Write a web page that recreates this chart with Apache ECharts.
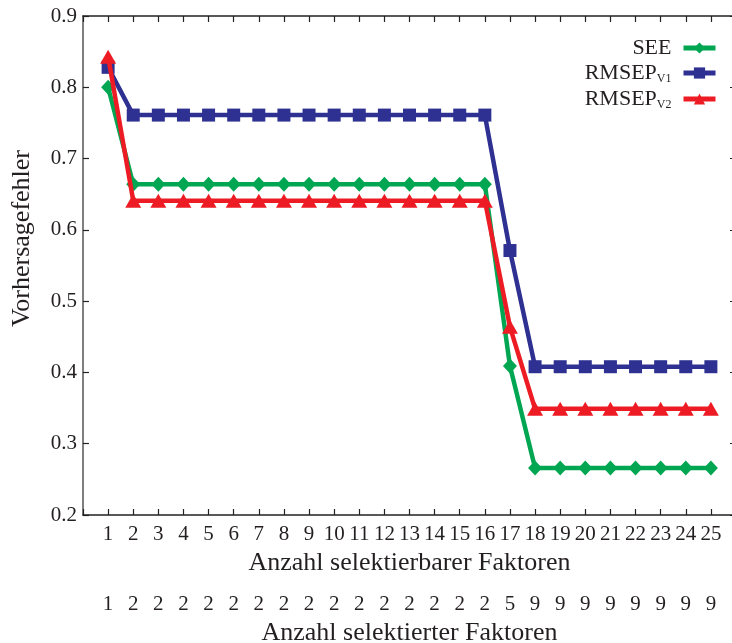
<!DOCTYPE html>
<html>
<head>
<meta charset="utf-8">
<script src="https://cdn.jsdelivr.net/npm/echarts@6/dist/echarts.min.js"></script>
<style>html,body{margin:0;padding:0;background:#fff}#c{width:732px;height:643px}</style>
</head>
<body>
<div id="c"></div>
<script>
const selectable = [1,2,3,4,5,6,7,8,9,10,11,12,13,14,15,16,17,18,19,20,21,22,23,24,25];
const selected = [1,2,2,2,2,2,2,2,2,2,2,2,2,2,2,2,5,9,9,9,9,9,9,9,9];
const see = [0.800,0.664,0.664,0.664,0.664,0.664,0.664,0.664,0.664,0.664,0.664,0.664,0.664,0.664,0.664,0.664,0.409,0.266,0.266,0.266,0.266,0.266,0.266,0.266,0.266];
const rmsepV1 = [0.828,0.761,0.761,0.761,0.761,0.761,0.761,0.761,0.761,0.761,0.761,0.761,0.761,0.761,0.761,0.761,0.571,0.408,0.408,0.408,0.408,0.408,0.408,0.408,0.408];
const rmsepV2 = [0.843,0.641,0.641,0.641,0.641,0.641,0.641,0.641,0.641,0.641,0.641,0.641,0.641,0.641,0.641,0.641,0.464,0.349,0.349,0.349,0.349,0.349,0.349,0.349,0.349];
const yTicks = [0.2,0.3,0.4,0.5,0.6,0.7,0.8,0.9];

const FONT = 'Liberation Serif';
const TXT = '#231f20';
const chart = echarts.init(document.getElementById('c'));
const pair = arr => arr.map((v,i)=>[selectable[i], v]);
const axisBase = {
  type:'value', min:0, max:26, interval:1,
  splitLine:{show:false}
};
chart.setOption({
  animation:false,
  textStyle:{fontFamily:FONT},
  grid:{left:83, top:16, bottom:128, width:653, containLabel:false, outerBoundsMode:'none'},
  legend:{
    orient:'vertical', right:14, top:37, align:'right', padding:0,
    itemWidth:32, itemHeight:14, itemGap:2,
    lineStyle:{width:5},
    textStyle:{fontFamily:FONT, fontSize:22, color:TXT,
      rich:{
        m:{fontFamily:FONT, fontSize:22, color:TXT, lineHeight:22, padding:[0,7,0,0]},
        t:{fontFamily:FONT, fontSize:22, color:TXT, lineHeight:22},
        s:{fontFamily:FONT, fontSize:12, color:TXT, lineHeight:10, padding:[12,7,0,0]}
      }
    },
    formatter: n => n==='SEE' ? '{m|SEE}' : '{t|RMSEP}{s|' + n.slice(-2) + '}',
    data:['SEE','RMSEP V1','RMSEP V2']
  },
  graphic:[{
    type:'text', left:9, top:150,
    rotation:Math.PI/2,
    style:{text:'Vorhersagefehler', fontFamily:FONT, fontSize:26, fill:TXT}
  }],
  xAxis:[
    Object.assign({}, axisBase, {
      position:'bottom',
      axisLine:{show:true, onZero:false, lineStyle:{color:'#222', width:1.5}},
      axisTick:{show:true, inside:true, length:6, lineStyle:{color:'#222', width:1.2}},
      axisLabel:{fontFamily:FONT, fontSize:21, color:TXT, margin:9,
        formatter: v => (v>=1 && v<=25) ? String(selectable[v-1]) : ''},
      name:'Anzahl selektierbarer Faktoren', nameLocation:'middle', nameGap:34,
      nameTextStyle:{fontFamily:FONT, fontSize:26, color:TXT}
    }),
    Object.assign({}, axisBase, {
      position:'bottom', offset:70,
      axisLine:{show:false}, axisTick:{show:false},
      axisLabel:{fontFamily:FONT, fontSize:21, color:TXT, margin:9,
        formatter: v => (v>=1 && v<=25) ? String(selected[v-1]) : ''},
      name:'Anzahl selektierter Faktoren', nameLocation:'middle', nameGap:32,
      nameTextStyle:{fontFamily:FONT, fontSize:26, color:TXT}
    }),
    Object.assign({}, axisBase, {
      position:'top',
      axisLine:{show:true, onZero:false, lineStyle:{color:'#222', width:1.5}},
      axisTick:{show:true, inside:true, length:6, lineStyle:{color:'#222', width:1.2}},
      axisLabel:{show:false}
    })
  ],
  yAxis:[
    {
      type:'value', min:0.2, max:0.9, interval:0.1, position:'left',
      axisLine:{show:true, onZero:false, lineStyle:{color:'#555', width:1.5}},
      axisTick:{show:true, inside:true, length:6, lineStyle:{color:'#222', width:1.2}},
      splitLine:{show:false},
      axisLabel:{fontFamily:FONT, fontSize:21, color:TXT, margin:6,
        formatter: v => { const t = yTicks.find(x=>Math.abs(x-v)<1e-6); return t!==undefined ? t.toFixed(1) : ''; }}
    },
    {
      type:'value', min:0.2, max:0.9, interval:0.1, position:'right',
      axisLine:{show:true, onZero:false, lineStyle:{color:'#222', width:1.5}},
      axisTick:{show:true, inside:true, length:6, lineStyle:{color:'#222', width:1.2}},
      splitLine:{show:false}, axisLabel:{show:false}
    }
  ],
  series:[
    {name:'SEE', type:'line', data:pair(see), symbol:'diamond', symbolSize:[14,15],
      lineStyle:{color:'#00a651', width:4.5}, itemStyle:{color:'#00a651'}, z:3},
    {name:'RMSEP V1', type:'line', data:pair(rmsepV1), symbol:'rect', symbolSize:13,
      lineStyle:{color:'#2e3192', width:4.5}, itemStyle:{color:'#2e3192'}, z:2},
    {name:'RMSEP V2', type:'line', data:pair(rmsepV2), symbol:'triangle', symbolSize:[16,14],
      lineStyle:{color:'#ed1c24', width:4.5}, itemStyle:{color:'#ed1c24'}, z:4}
  ]
});
</script>
</body>
</html>
